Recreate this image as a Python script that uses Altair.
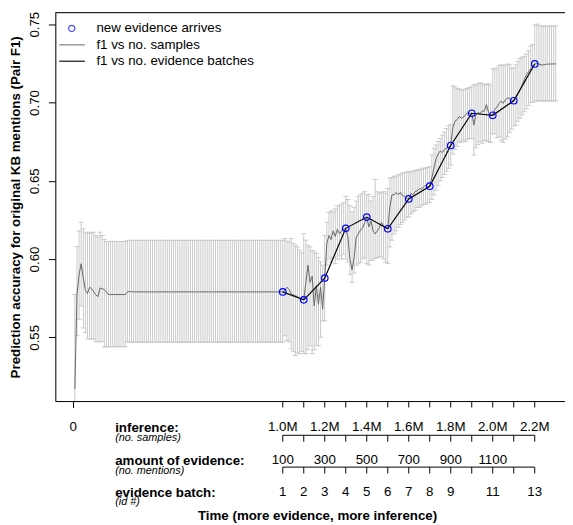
import altair as alt
import pandas as pd

# ---------------- data ----------------
# x grid: number of samples (one reading every 10k samples)
samples = [10000 * (i + 1) for i in range(230)]

f1_mean = [
    0.517, 0.577, 0.590, 0.597, 0.588, 0.580, 0.578, 0.582, 0.581, 0.579,
    0.577, 0.576, 0.5815, 0.581, 0.5805, 0.579, 0.5773, 0.5773, 0.5773, 0.5773,
    0.5773, 0.5773, 0.5773, 0.5773, 0.5773, 0.579, 0.5792, 0.5792, 0.579, 0.579,
    0.579, 0.579, 0.579, 0.579, 0.579, 0.579, 0.579, 0.579, 0.579, 0.579,
    0.579, 0.579, 0.579, 0.579, 0.579, 0.579, 0.579, 0.579, 0.579, 0.579,
    0.579, 0.579, 0.579, 0.579, 0.579, 0.579, 0.579, 0.579, 0.579, 0.579,
    0.579, 0.579, 0.579, 0.579, 0.579, 0.579, 0.579, 0.579, 0.579, 0.579,
    0.579, 0.579, 0.579, 0.579, 0.579, 0.579, 0.579, 0.579, 0.579, 0.579,
    0.579, 0.579, 0.579, 0.579, 0.579, 0.579, 0.579, 0.579, 0.579, 0.579,
    0.579, 0.579, 0.579, 0.579, 0.579, 0.579, 0.579, 0.579, 0.579, 0.579,
    0.580, 0.582, 0.5805, 0.578, 0.577, 0.5765, 0.576, 0.575, 0.5745, 0.574,
    0.585, 0.596, 0.585, 0.589, 0.570, 0.583, 0.571, 0.582, 0.568, 0.588,
    0.610, 0.615, 0.6125, 0.618, 0.6145, 0.619, 0.616, 0.618, 0.619, 0.6196,
    0.614, 0.600, 0.593, 0.601, 0.614, 0.616, 0.6185, 0.620, 0.623, 0.6268,
    0.6205, 0.6245, 0.618, 0.616, 0.618, 0.620, 0.6235, 0.621, 0.6205, 0.6193,
    0.633, 0.641, 0.641, 0.6425, 0.641, 0.6425, 0.6405, 0.640, 0.639, 0.6384,
    0.642, 0.641, 0.643, 0.6435, 0.645, 0.6445, 0.646, 0.647, 0.646, 0.6465,
    0.652, 0.658, 0.664, 0.667, 0.669, 0.668, 0.670, 0.671, 0.671, 0.6725,
    0.684, 0.688, 0.689, 0.691, 0.690, 0.6905, 0.692, 0.6935, 0.693, 0.6931,
    0.6855, 0.6925, 0.6934, 0.693, 0.6945, 0.6945, 0.6987, 0.6935, 0.692, 0.6918,
    0.6958, 0.697, 0.6995, 0.7008, 0.6995, 0.7018, 0.7029, 0.7025, 0.7015, 0.7011,
    0.703, 0.7055, 0.708, 0.711, 0.7145, 0.7175, 0.7195, 0.7215, 0.7228, 0.7246,
    0.725, 0.7245, 0.724, 0.724, 0.7243, 0.7245, 0.7245, 0.7246, 0.7246, 0.7246,
]

f1_upper = [
    0.5773, 0.608, 0.618, 0.6234, 0.6193, 0.6171, 0.6165, 0.6171, 0.6165, 0.6171,
    0.615, 0.614, 0.6171, 0.615, 0.6125, 0.6112, 0.6112, 0.6112, 0.6112, 0.6112,
    0.6112, 0.6112, 0.6112, 0.6112, 0.6112, 0.6119, 0.6119, 0.6119, 0.6119, 0.6119,
    0.6119, 0.6119, 0.6119, 0.6119, 0.6119, 0.6119, 0.6119, 0.6119, 0.6119, 0.6119,
    0.6119, 0.6119, 0.6119, 0.6119, 0.6119, 0.6119, 0.6119, 0.6119, 0.6119, 0.6119,
    0.6119, 0.6119, 0.6119, 0.6119, 0.6119, 0.6119, 0.6119, 0.6119, 0.6119, 0.6119,
    0.6119, 0.6119, 0.6119, 0.6119, 0.6119, 0.6119, 0.6119, 0.6119, 0.6119, 0.6119,
    0.6119, 0.6119, 0.6119, 0.6119, 0.6119, 0.6119, 0.6119, 0.6119, 0.6119, 0.6119,
    0.6119, 0.6119, 0.6119, 0.6119, 0.6119, 0.6119, 0.6119, 0.6119, 0.6119, 0.6119,
    0.6119, 0.6119, 0.6119, 0.6119, 0.6119, 0.6119, 0.6119, 0.6119, 0.6119, 0.6119,
    0.613, 0.6115, 0.6108, 0.613, 0.610, 0.6087, 0.6077, 0.6056, 0.604, 0.6161,
    0.612, 0.6087, 0.6077, 0.6056, 0.6045, 0.6035, 0.601, 0.5982, 0.596, 0.615,
    0.6234, 0.6297, 0.6307, 0.630, 0.632, 0.634, 0.6339, 0.635, 0.636, 0.640,
    0.638, 0.634, 0.630, 0.633, 0.637, 0.640, 0.641, 0.642, 0.643, 0.641,
    0.6413, 0.637, 0.640, 0.6508, 0.643, 0.642, 0.6425, 0.643, 0.642, 0.645,
    0.6518, 0.652, 0.6528, 0.653, 0.6538, 0.654, 0.655, 0.655, 0.6555, 0.656,
    0.6555, 0.656, 0.6565, 0.657, 0.657, 0.6575, 0.658, 0.658, 0.6585, 0.659,
    0.6665, 0.6707, 0.6728, 0.675, 0.677, 0.6791, 0.681, 0.6833, 0.685, 0.686,
    0.7105, 0.710, 0.709, 0.7085, 0.708, 0.708, 0.7085, 0.709, 0.7095, 0.710,
    0.7115, 0.711, 0.712, 0.7125, 0.712, 0.711, 0.7115, 0.712, 0.711, 0.7215,
    0.7215, 0.722, 0.7235, 0.724, 0.7235, 0.724, 0.7245, 0.724, 0.722, 0.722,
    0.724, 0.726, 0.728, 0.729, 0.7295, 0.731, 0.733, 0.736, 0.737, 0.7494,
    0.750, 0.749, 0.749, 0.7488, 0.7488, 0.7488, 0.7488, 0.7488, 0.7488, 0.7488,
]

f1_lower = [
    0.457, 0.551, 0.5615, 0.570, 0.556, 0.5531, 0.549, 0.549, 0.5489, 0.5489,
    0.5472, 0.5472, 0.5472, 0.5472, 0.5437, 0.5440, 0.5440, 0.5440, 0.5440, 0.5440,
    0.5440, 0.5440, 0.5440, 0.5440, 0.5440, 0.5469, 0.5469, 0.5469, 0.5469, 0.5469,
    0.5469, 0.5469, 0.5469, 0.5469, 0.5469, 0.5469, 0.5469, 0.5469, 0.5469, 0.5469,
    0.5469, 0.5469, 0.5469, 0.5469, 0.5469, 0.5469, 0.5469, 0.5469, 0.5469, 0.5469,
    0.5469, 0.5469, 0.5469, 0.5469, 0.5469, 0.5469, 0.5469, 0.5469, 0.5469, 0.5469,
    0.5469, 0.5469, 0.5469, 0.5469, 0.5469, 0.5469, 0.5469, 0.5469, 0.5469, 0.5469,
    0.5469, 0.5469, 0.5469, 0.5469, 0.5469, 0.5469, 0.5469, 0.5469, 0.5469, 0.5469,
    0.5469, 0.5469, 0.5469, 0.5469, 0.5469, 0.5469, 0.5469, 0.5469, 0.5469, 0.5469,
    0.5469, 0.5469, 0.5469, 0.5469, 0.5469, 0.5469, 0.5469, 0.5469, 0.5469, 0.5469,
    0.551, 0.548, 0.547, 0.5426, 0.541, 0.5384, 0.540, 0.5395, 0.541, 0.5395,
    0.5395, 0.542, 0.5447, 0.5395, 0.542, 0.5447, 0.5447, 0.550, 0.5605, 0.5605,
    0.596, 0.600, 0.598, 0.601, 0.597, 0.600, 0.602, 0.600, 0.603, 0.600,
    0.598, 0.590, 0.585, 0.591, 0.596, 0.597, 0.598, 0.600, 0.601, 0.597,
    0.5962, 0.599, 0.5993, 0.6003, 0.601, 0.6014, 0.6014, 0.600, 0.598, 0.5972,
    0.6077, 0.612, 0.616, 0.618, 0.6203, 0.622, 0.6234, 0.625, 0.6266, 0.627,
    0.6287, 0.630, 0.631, 0.6329, 0.633, 0.634, 0.635, 0.635, 0.636, 0.636,
    0.638, 0.641, 0.644, 0.647, 0.650, 0.652, 0.654, 0.656, 0.658, 0.660,
    0.667, 0.670, 0.672, 0.6745, 0.675, 0.676, 0.675, 0.6765, 0.677, 0.677,
    0.6665, 0.671, 0.673, 0.675, 0.674, 0.6755, 0.676, 0.675, 0.6745, 0.680,
    0.680, 0.6775, 0.678, 0.6755, 0.6745, 0.6765, 0.678, 0.681, 0.683, 0.685,
    0.6855, 0.688, 0.690, 0.692, 0.694, 0.696, 0.698, 0.700, 0.700, 0.701,
    0.701, 0.701, 0.701, 0.701, 0.701, 0.701, 0.701, 0.701, 0.701, 0.701,
]

# evidence batches (new evidence arrives)
batch_ids = [1, 2, 3, 4, 5, 6, 7, 8, 9, 10, 11, 12, 13]
batch_samples = [1000000, 1100000, 1200000, 1300000, 1400000, 1500000, 1600000,
                 1700000, 1800000, 1900000, 2000000, 2100000, 2200000]
batch_mentions = [100, 200, 300, 400, 500, 600, 700, 800, 900, 1000, 1100, 1200, 1300]
batch_f1 = [0.5790, 0.5739, 0.5878, 0.6196, 0.6268, 0.6193, 0.6384, 0.6465,
            0.6725, 0.6931, 0.6918, 0.7011, 0.7246]

# tick labels (one per evidence batch)
inference_tick_labels = ["1.0M", "", "1.2M", "", "1.4M", "", "1.6M", "",
                         "1.8M", "", "2.0M", "", "2.2M"]
amount_tick_labels = ["100", "", "300", "", "500", "", "700", "", "900", "",
                      "1100", "", ""]
batch_tick_labels = ["1", "2", "3", "4", "5", "6", "7", "8", "9", "", "11", "", "13"]
y_tick_values = [0.55, 0.60, 0.65, 0.70, 0.75]

legend_labels = ["new evidence arrives", "f1 vs no. samples", "f1 vs no. evidence batches"]
row_titles = ["inference:", "amount of evidence:", "evidence batch:"]
row_subtitles = ["(no. samples)", "(no. mentions)", "(id #)"]
y_title = "Prediction accuracy for original KB mentions (Pair F1)"
x_title = "Time (more evidence, more inference)"

# ---------------- layout ----------------
W, H = 517, 394
FONT = "Liberation Sans"
FS = 13.5
X_DOM = [-83100, 2344100]
Y_DOM = [0.50926, 0.75737]
BAR_COL = "#c9c9c9"
AMT_LINE = H + 34.7     # y of the "amount of evidence" axis line (plot pixels)
BAT_LINE = H + 67.0     # y of the "evidence batch" axis line
TICK = 6.5

df = pd.DataFrame({"samples": samples, "f1": f1_mean, "lo": f1_lower, "hi": f1_upper})
bdf = pd.DataFrame({"samples": batch_samples, "f1": batch_f1, "inf": inference_tick_labels,
                    "amt": amount_tick_labels, "bat": batch_tick_labels})
span = pd.DataFrame({"s0": [batch_samples[0]], "s1": [batch_samples[-1]]})
one = pd.DataFrame({"k": [0]})

xs = alt.Scale(domain=X_DOM, nice=False, zero=False)
ys = alt.Scale(domain=Y_DOM, nice=False, zero=False)

x_axis = alt.Axis(
    orient="bottom", values=[0], format="d",
    title=None, grid=False, tickSize=TICK, tickColor="black", domainColor="black",
    labelFont=FONT, labelFontSize=FS, labelColor="black", labelBaseline="alphabetic",
    labelPadding=23.8, labelOverlap=False, labelFlush=False,
)
y_axis = alt.Axis(
    values=y_tick_values, format=".2f", grid=False, tickSize=7, tickColor="black",
    domainColor="black", labelFont=FONT, labelFontSize=FS, labelColor="black",
    labelAngle=270, labelAlign="center", labelBaseline="alphabetic", labelPadding=10.5,
    title=y_title, titleFont=FONT, titleFontSize=FS, titleFontWeight="bold",
    titleColor="black", titleAngle=270, titleX=-40, titleBaseline="middle",
    titleAlign="center",
)

bars = alt.Chart(df).mark_rule(color=BAR_COL, strokeWidth=1, clip=True).encode(
    x=alt.X("samples:Q", scale=xs, axis=x_axis),
    y=alt.Y("lo:Q", scale=ys, axis=y_axis),
    y2="hi:Q",
)
cap_hi = alt.Chart(df).mark_rule(color=BAR_COL, strokeWidth=1, xOffset=-2.5, x2Offset=2.5, clip=True).encode(
    x="samples:Q", x2="samples:Q", y="hi:Q")
cap_lo = alt.Chart(df).mark_rule(color=BAR_COL, strokeWidth=1, xOffset=-2.5, x2Offset=2.5, clip=True).encode(
    x="samples:Q", x2="samples:Q", y="lo:Q")
gray_line = alt.Chart(df).mark_line(color="#666666", strokeWidth=1, clip=True).encode(
    x="samples:Q", y="f1:Q")
black_line = alt.Chart(bdf).mark_line(color="black", strokeWidth=1.2).encode(
    x="samples:Q", y="f1:Q")
circles = alt.Chart(bdf).mark_point(shape="circle", filled=False, color="#0000ff",
                                    size=44, strokeWidth=1.2, opacity=1).encode(
    x="samples:Q", y="f1:Q")

top_line = alt.Chart(one).mark_rule(color="black", strokeWidth=1).encode(
    x=alt.value(0), x2=alt.value(W), y=alt.value(0))

# legend (drawn like R's legend("topleft"))
leg_rows = [16, 32.7, 49.3]
legend = [
    alt.Chart(one).mark_point(shape="circle", filled=False, color="#0000ff", size=40,
                              strokeWidth=1.2).encode(x=alt.value(16.7), y=alt.value(leg_rows[0])),
    alt.Chart(one).mark_rule(color="#666666", strokeWidth=1).encode(
        x=alt.value(4), x2=alt.value(30), y=alt.value(leg_rows[1])),
    alt.Chart(one).mark_rule(color="#222222", strokeWidth=1.3).encode(
        x=alt.value(4), x2=alt.value(30), y=alt.value(leg_rows[2])),
]
for lab, yy in zip(legend_labels, leg_rows):
    legend.append(alt.Chart(one).mark_text(text=lab, align="left", baseline="middle",
                                           font=FONT, fontSize=FS, color="black").encode(
        x=alt.value(41.7), y=alt.value(yy)))

# batch ticks on the plot's own bottom axis (inference / no. samples)
sec = [
    alt.Chart(bdf).mark_rule(color="black", strokeWidth=1).encode(
        x="samples:Q", y=alt.value(H), y2=alt.value(H + TICK)),
    alt.Chart(bdf).mark_text(align="center", baseline="alphabetic", font=FONT,
                             fontSize=FS, color="black").encode(
        x="samples:Q", y=alt.value(H + 30.3), text="inf:N"),
]
# secondary axes (amount of evidence, evidence batch) on the shared sample scale
for line_y, field in [(AMT_LINE, "amt"), (BAT_LINE, "bat")]:
    sec.append(alt.Chart(span).mark_rule(color="black", strokeWidth=1).encode(
        x="s0:Q", x2="s1:Q", y=alt.value(line_y)))
    sec.append(alt.Chart(bdf).mark_rule(color="black", strokeWidth=1).encode(
        x="samples:Q", y=alt.value(line_y), y2=alt.value(line_y + TICK)))
    sec.append(alt.Chart(bdf).mark_text(align="center", baseline="alphabetic", font=FONT,
                                        fontSize=FS, color="black").encode(
        x="samples:Q", y=alt.value(line_y + 29.2), text=f"{field}:N"))

# row labels left of the axes
title_rows = [425.3, 458.7, 491.5]
sub_rows = [434.8, 467.8, 499.8]
row_text = []
for t, s, ty, sy in zip(row_titles, row_subtitles, title_rows, sub_rows):
    row_text.append(alt.Chart(one).mark_text(text=t, align="left", baseline="alphabetic", font=FONT,
                                             fontSize=FS, fontWeight="bold", color="black").encode(
        x=alt.value(60.7), y=alt.value(ty)))
    row_text.append(alt.Chart(one).mark_text(text=s, align="left", baseline="alphabetic", font=FONT,
                                             fontSize=11, fontStyle="italic", color="black").encode(
        x=alt.value(60.7), y=alt.value(sy)))
row_text.append(alt.Chart(one).mark_text(text=x_title, align="center", baseline="alphabetic",
                                         font=FONT, fontSize=FS, fontWeight="bold",
                                         color="black").encode(
    x=alt.value(266), y=alt.value(BAT_LINE + 53.5)))

chart = alt.layer(bars, cap_hi, cap_lo, gray_line, black_line, circles, top_line,
                  *legend, *sec, *row_text).properties(
    width=W, height=H,
    autosize=alt.AutoSizeParams(type="none"),
    padding={"left": 48, "top": 1, "right": 0, "bottom": 122},
).configure_view(stroke=None).configure(background="white")

chart.save("out.html", embed_options={"renderer": "svg", "actions": False})
